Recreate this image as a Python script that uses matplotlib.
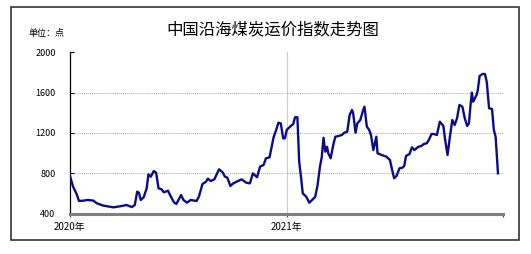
import numpy as np
import matplotlib
matplotlib.use("Agg")
from matplotlib import pyplot as plt
from matplotlib.patches import Rectangle

plt.rcParams['font.family'] = ['Noto Sans CJK SC', 'DejaVu Sans']

dates_2020 = ['01-01', '01-07', '01-13', '01-17', '01-24', '02-01', '02-10', '02-16', '02-27', '03-15',
              '03-26', '04-06', '04-15', '04-20', '04-24', '04-27', '04-30', '05-05', '05-10', '05-13',
              '05-17', '05-22', '05-26', '05-30', '06-04', '06-08', '06-15', '06-19', '06-25', '06-29',
              '07-07', '07-11', '07-17', '07-23', '08-02', '08-06', '08-12', '08-18', '08-21', '08-26',
              '09-01', '09-09', '09-15', '09-19', '09-23', '09-28', '10-03', '10-12', '10-17', '10-25',
              '10-31', '11-05', '11-12', '11-17', '11-23', '11-27', '12-03', '12-10', '12-14', '12-18',
              '12-22', '12-26', '12-29']
vals_2020 = [790, 668, 595, 526, 529, 536, 530, 503, 480, 463,
             473, 486, 466, 486, 618, 608, 536, 562, 652, 790,
             767, 823, 806, 652, 642, 612, 628, 578, 513, 496,
             585, 536, 509, 536, 526, 568, 694, 717, 747, 724,
             740, 840, 810, 767, 757, 675, 701, 727, 740, 707,
             701, 800, 761, 866, 883, 949, 958, 1160, 1226, 1302,
             1295, 1147, 1147]
dates_2021 = ['01-01', '01-08', '01-12', '01-15', '01-19', '01-22', '01-25', '01-28', '02-03', '02-08',
              '02-14', '02-18', '02-22', '02-26', '03-01', '03-04', '03-07', '03-10', '03-12', '03-16',
              '03-21', '03-24', '03-29', '04-04', '04-08', '04-13', '04-17', '04-21', '04-23', '04-27',
              '04-30', '05-05', '05-09', '05-12', '05-16', '05-20', '05-23', '05-27', '06-01', '06-03',
              '06-10', '06-18', '06-24', '06-27', '07-01', '07-05', '07-10', '07-15', '07-18', '07-21',
              '07-27', '07-31', '08-04', '08-11', '08-16', '08-20', '08-25', '08-29', '09-02', '09-06',
              '09-11', '09-16', '09-22', '09-25', '09-29', '10-03', '10-07', '10-11', '10-15', '10-19',
              '10-24', '10-28', '11-01', '11-04', '11-07', '11-09', '11-11', '11-17', '11-19', '11-22',
              '11-27', '12-01', '12-04', '12-08', '12-13', '12-16', '12-19', '12-23']
vals_2021 = [1230, 1270, 1289, 1356, 1356, 915, 767, 602, 568, 509,
             543, 568, 684, 866, 959, 1153, 1015, 1064, 999, 949,
             1098, 1163, 1170, 1180, 1203, 1213, 1378, 1428, 1395, 1203,
             1295, 1329, 1411, 1461, 1263, 1230, 1180, 1031, 1163, 999,
             982, 965, 932, 850, 751, 774, 850, 856, 873, 972,
             992, 1058, 1031, 1064, 1071, 1091, 1098, 1137, 1190, 1190,
             1180, 1312, 1269, 1130, 982, 1163, 1329, 1279, 1346, 1478,
             1461, 1346, 1270, 1295, 1494, 1600, 1510, 1577, 1626, 1765,
             1785, 1785, 1709, 1445, 1438, 1230, 1163, 800]
yticks = [400, 800, 1200, 1600, 2000]
year_labels = ['2020年', '2021年']

dates = np.array(['2020-' + d for d in dates_2020] + ['2021-' + d for d in dates_2021], dtype='datetime64[D]')
vals = np.array(vals_2020 + vals_2021)

fig = plt.figure(figsize=(5.31, 2.54), dpi=100)
fig.patches.append(Rectangle((0.0207, 0.0551), 0.957, 0.917, transform=fig.transFigure,
                             fill=False, edgecolor='#333333', linewidth=1.2))
ax = fig.add_axes([0.1309, 0.1587, 0.817, 0.6354])

x0 = np.datetime64('2020-01-01')
x1 = np.datetime64('2022-01-01')
ax.set_xlim(x0, x1)
ax.set_ylim(400, 2000)

for y in yticks[1:-1]:
    ax.axhline(y, color='#aaaaaa', linestyle=(0, (1, 1)), linewidth=0.7, zorder=1)
for x in [np.datetime64('2021-01-01'), x1]:
    ax.axvline(x, color='#cccccc', linewidth=0.8, zorder=1)

ax.plot(dates, vals, color='#0c0c8a', linewidth=1.7, zorder=3)

ax.set_yticks(yticks)
ax.set_yticklabels([str(v) for v in yticks], fontsize=6.5)
ax.tick_params(axis='y', direction='in', length=3, width=0.8, pad=10)
ax.set_xticks([x0, np.datetime64('2021-01-01'), x1])
ax.set_xticklabels(year_labels + [''], fontsize=7)
ax.tick_params(axis='x', direction='out', length=2, width=0.8, color='#444444', pad=4)

ax.spines['top'].set_visible(False)
ax.spines['right'].set_visible(False)
ax.spines['left'].set_color('black')
ax.spines['left'].set_linewidth(0.9)
ax.spines['bottom'].set_color('#808080')
ax.spines['bottom'].set_linewidth(2.2)

fig.text(0.514, 0.882, '中国沿海煤炭运价指数走势图', ha='center', va='center', fontsize=11.8)
fig.text(0.053, 0.87, '单位：点', ha='left', va='center', fontsize=6.5)

fig.savefig('out.png', dpi=100)
